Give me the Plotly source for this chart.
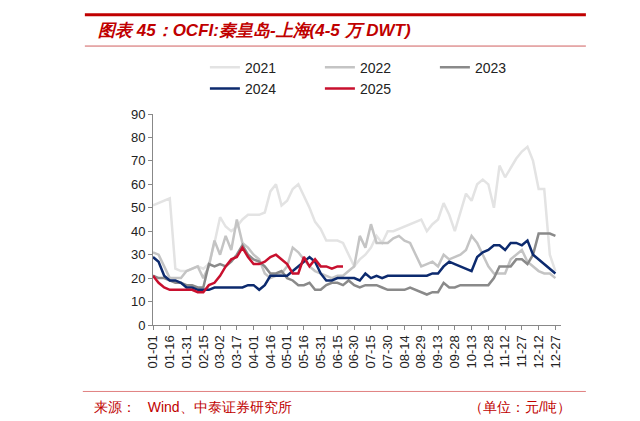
import plotly.graph_objects as go

# sampled every 5 days, day 0 .. 360
days = list(range(0, 361, 5))

y2021 = [51, 52, 53, 54, 24, 23, 23, 24, 25, 24, 26, 35, 46, 42, 40, 42, 45, 47, 47, 47,
         48, 57, 60, 51, 53, 58, 60, 55, 50, 44, 41, 36, 36, 36, 35, 30, 25, 28, 30, 33,
         38, 35, 40, 40, 41, 42, 43, 44, 45, 40, 43, 45, 52, 47, 40, 48, 56, 53, 60, 62,
         60, 50, 68, 63, 67, 71, 74, 76, 70, 58, 58, 30, 23]
y2022 = [31, 30, 25, 20, 20, 20, 23, 24, 25, 20, 25, 36, 30, 38, 32, 45, 35, 33, 30, 28,
         22, 20, 21, 22, 25, 33, 31, 28, 25, 23, 22, 21, 20, 21, 21, 23, 25, 38, 33, 43,
         35, 35, 35, 37, 38, 36, 35, 30, 25, 26, 27, 25, 30, 28, 29, 30, 32, 38, 35, 30,
         25, 22, 22, 22, 28, 30, 32, 27, 25, 23, 22, 22, 20]
y2023 = [21, 20, 20, 19, 18, 18, 17, 17, 16, 16, 26, 25, 26, 25, 27, 30, 34, 30, 28, 27,
         25, 22, 22, 23, 20, 19, 17, 17, 18, 15, 15, 17, 18, 18, 17, 19, 17, 16, 17, 17,
         17, 16, 15, 15, 15, 15, 16, 15, 14, 13, 14, 14, 18, 16, 16, 17, 17, 17, 17, 17,
         17, 20, 25, 25, 25, 28, 28, 26, 30, 39, 39, 39, 38]
y2024 = [29, 27, 21, 19, 19, 18, 16, 16, 15, 15, 15, 16, 16, 16, 16, 16, 16, 17, 17, 15,
         17, 21, 21, 21, 21, 23, 25, 27, 29, 27, 22, 19, 19, 20, 20, 20, 20, 19, 22, 20,
         21, 20, 21, 21, 21, 21, 21, 21, 21, 21, 22, 22, 25, 27, 26, 25, 24, 23, 29, 31,
         32, 34, 34, 32, 35, 35, 34, 36, 30, 28, 26, 24, 22]
y2025 = [21, 18, 16, 15, 15, 15, 15, 15, 14, 14, 17, 18, 21, 25, 28, 29, 33, 29, 26, 26,
         27, 29, 30, 28, 26, 22, 22, 29, 25, 28, 25, 25, 24, 25, 25]

tick_days = list(range(0, 361, 15))
tick_labels = ["01-01", "01-16", "01-31", "02-15", "03-02", "03-17", "04-01", "04-16",
               "05-01", "05-16", "05-31", "06-15", "06-30", "07-15", "07-30", "08-14",
               "08-29", "09-13", "09-28", "10-13", "10-28", "11-12", "11-27", "12-12", "12-27"]

series = [("2021", y2021, "#e3e3e3"), ("2022", y2022, "#c4c4c4"),
          ("2023", y2023, "#8a8a8a"), ("2024", y2024, "#0c2a6e"),
          ("2025", y2025, "#c8102e")]

fig = go.Figure()
for name, vals, color in series:
    fig.add_trace(go.Scatter(x=days[:len(vals)], y=vals, name=name, mode="lines",
                             line=dict(color=color, width=2.5)))

red = "#c00000"
fig.update_layout(
    width=640, height=421, plot_bgcolor="white", paper_bgcolor="white",
    margin=dict(l=145, r=87, t=106, b=104),
    font=dict(family="Liberation Sans, Arial", size=13, color="#222"),
    legend=dict(orientation="h", x=0.55, xanchor="center", y=1.17, yanchor="middle",
                font=dict(size=14), entrywidth=70, entrywidthmode="pixels",
                tracegroupgap=0),
    xaxis=dict(range=[0, 365], tickvals=tick_days, ticktext=tick_labels, tickangle=-90,
               showgrid=False, showline=True, linecolor="#888", ticks="outside",
               tickcolor="#888", ticklen=4, zeroline=False, automargin=False),
    yaxis=dict(range=[0, 90], dtick=10, showgrid=False, showline=True, linecolor="#888",
               ticks="outside", tickcolor="#888", ticklen=4, zeroline=False,
               automargin=False),
    shapes=[
        dict(type="line", xref="paper", yref="paper", x0=-0.167, x1=1.061, y0=1.47, y1=1.47,
             line=dict(color=red, width=3)),
        dict(type="line", xref="paper", yref="paper", x0=-0.167, x1=1.061, y0=1.322, y1=1.322,
             line=dict(color="#d06060", width=1)),
        dict(type="line", xref="paper", yref="paper", x0=-0.172, x1=1.061, y0=-0.315, y1=-0.315,
             line=dict(color="#e08080", width=1)),
    ],
    annotations=[
        dict(text="<b><i>图表 45：OCFI:秦皇岛-上海(4-5 万 DWT)</i></b>", xref="paper", yref="paper",
             x=-0.14, y=1.398, xanchor="left", yanchor="middle", showarrow=False,
             font=dict(size=17, color=red)),
        dict(text="来源：   Wind、中泰证券研究所", xref="paper", yref="paper",
             x=-0.15, y=-0.39, xanchor="left", yanchor="middle", showarrow=False,
             font=dict(size=14, color=red)),
        dict(text="（单位：元/吨）", xref="paper", yref="paper",
             x=1.03, y=-0.39, xanchor="right", yanchor="middle", showarrow=False,
             font=dict(size=14, color=red)),
    ],
)

fig.write_html("out.html")
